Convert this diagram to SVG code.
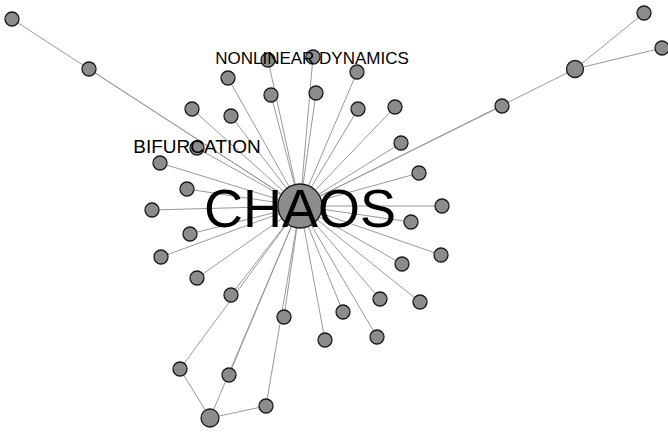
<svg xmlns="http://www.w3.org/2000/svg" width="668" height="432" viewBox="0 0 668 432">
<style>
.e{stroke:#999;stroke-width:1;fill:none}
.n{fill:#8c8c8c;stroke:#1a1a1a;stroke-width:1.3}
.t{font-family:"Liberation Sans",Arial,sans-serif;fill:#000;text-anchor:middle}
</style>
<rect width="668" height="432" fill="#fff"/>
<g id="connectors">
<path class="e" d="M300 206L12 19M300 206L89 69M300 206L228 78M300 206L192 109M300 206L231 116M300 206L268 60M300 206L313 57M300 206L271 95M300 206L316 93M300 206L357 72M300 206L358 109M300 206L395 107M300 206L401 143M300 206L419 173M300 206L442 206M300 206L411 222M300 206L441 255M300 206L402 264M300 206L380 299M300 206L420 302M300 206L343 312M300 206L377 337M300 206L325 340M300 206L284 317M300 206L266 406M300 206L231 295M300 206L180 369M300 206L229 375M300 206L210 418M300 206L197 278M300 206L161 257M300 206L190 234M300 206L152 210M300 206L187 189M300 206L160 163M300 206L197 148M300 206L502 106M300 206L575 69M575 69L644 13M575 69L662 48M210 418L180 369M210 418L266 406"/>
</g>
<g id="n1"><circle class="n" cx="12" cy="19" r="7"/></g>
<g id="n2"><circle class="n" cx="89" cy="69" r="7"/></g>
<g id="n3"><circle class="n" cx="228" cy="78" r="7"/></g>
<g id="n4"><circle class="n" cx="192" cy="109" r="7"/></g>
<g id="n5"><circle class="n" cx="231" cy="116" r="7"/></g>
<g id="n6"><circle class="n" cx="268" cy="60" r="7"/></g>
<g id="n8"><circle class="n" cx="271" cy="95" r="7"/></g>
<g id="n9"><circle class="n" cx="316" cy="93" r="7"/></g>
<g id="n10"><circle class="n" cx="357" cy="72" r="7"/></g>
<g id="n11"><circle class="n" cx="358" cy="109" r="7"/></g>
<g id="n12"><circle class="n" cx="395" cy="107" r="7"/></g>
<g id="n13"><circle class="n" cx="401" cy="143" r="7"/></g>
<g id="n14"><circle class="n" cx="419" cy="173" r="7"/></g>
<g id="n15"><circle class="n" cx="442" cy="206" r="7"/></g>
<g id="n16"><circle class="n" cx="411" cy="222" r="7"/></g>
<g id="n17"><circle class="n" cx="441" cy="255" r="7"/></g>
<g id="n18"><circle class="n" cx="402" cy="264" r="7"/></g>
<g id="n19"><circle class="n" cx="380" cy="299" r="7"/></g>
<g id="n20"><circle class="n" cx="420" cy="302" r="7"/></g>
<g id="n21"><circle class="n" cx="343" cy="312" r="7"/></g>
<g id="n22"><circle class="n" cx="377" cy="337" r="7"/></g>
<g id="n23"><circle class="n" cx="325" cy="340" r="7"/></g>
<g id="n24"><circle class="n" cx="284" cy="317" r="7"/></g>
<g id="n25"><circle class="n" cx="266" cy="406" r="7"/></g>
<g id="n26"><circle class="n" cx="231" cy="295" r="7"/></g>
<g id="n27"><circle class="n" cx="180" cy="369" r="7"/></g>
<g id="n28"><circle class="n" cx="229" cy="375" r="7"/></g>
<g id="n29"><circle class="n" cx="210" cy="418" r="9"/></g>
<g id="n30"><circle class="n" cx="197" cy="278" r="7"/></g>
<g id="n31"><circle class="n" cx="161" cy="257" r="7"/></g>
<g id="n32"><circle class="n" cx="190" cy="234" r="7"/></g>
<g id="n33"><circle class="n" cx="152" cy="210" r="7"/></g>
<g id="n34"><circle class="n" cx="187" cy="189" r="7"/></g>
<g id="n35"><circle class="n" cx="160" cy="163" r="7"/></g>
<g id="n36"><circle class="n" cx="502" cy="106" r="7"/></g>
<g id="n37"><circle class="n" cx="575" cy="69" r="8.5"/></g>
<g id="n38"><circle class="n" cx="644" cy="13" r="7"/></g>
<g id="n39"><circle class="n" cx="662" cy="48" r="7"/></g>
<g id="bifurcation"><circle class="n" cx="197" cy="148" r="7"/><text class="t" x="197" y="153" font-size="19">BIFURCATION</text></g>
<g id="nonlinear-dynamics"><circle class="n" cx="313" cy="57" r="7"/><text class="t" x="312" y="64" font-size="17">NONLINEAR DYNAMICS</text></g>
<g id="chaos"><circle class="n" cx="300" cy="206" r="22"/><text class="t" x="300" y="227" font-size="54">CHAOS</text></g>
</svg>
